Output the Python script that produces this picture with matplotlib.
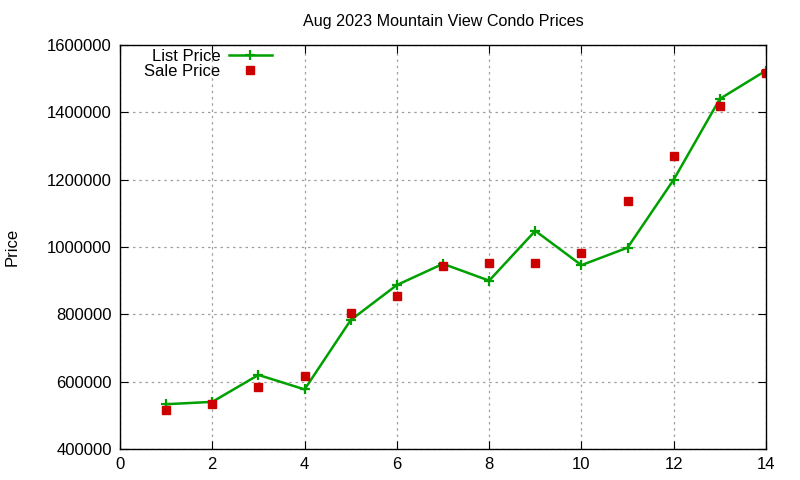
import matplotlib
matplotlib.use("Agg")
import matplotlib.pyplot as plt

x = list(range(1, 15))
list_price = [533000, 540000, 620000, 577000, 783000, 887000, 950000, 900000,
              1048000, 946000, 998000, 1200000, 1440000, 1524000]
sale_price = [517000, 535000, 585000, 618000, 804000, 855000, 945000, 951000,
              951000, 981000, 1138000, 1271000, 1419000, 1516000]
yticks = [400000, 600000, 800000, 1000000, 1200000, 1400000, 1600000]
xticks = [0, 2, 4, 6, 8, 10, 12, 14]

plt.rcParams['font.family'] = ['Liberation Sans', 'DejaVu Sans']
fig = plt.figure(figsize=(8, 4.8), dpi=100)
ax = fig.add_axes([0.15, 0.0646, 0.8075, 0.8417])

ax.plot(x, list_price, color='#00a000', lw=1.8, marker='+', ms=7, mew=1.6,
        label='List Price')
ax.plot(x, sale_price, ls='none', marker='s', ms=6, color='#cc0000',
        label='Sale Price')

ax.set_xlim(0, 14)
ax.set_ylim(400000, 1600000)
ax.set_xticks(xticks)
ax.set_yticks(yticks)
ax.set_yticklabels([str(v) for v in yticks])
ax.tick_params(direction='in', top=True, right=True, labelsize=12, length=6, pad=6)
ax.grid(True, color='#a0a0a0', ls=(0, (2, 3)), lw=0.9)
for s in ax.spines.values():
    s.set_linewidth(1.0)
ax.set_title('Aug 2023 Mountain View Condo Prices', fontsize=11.6, pad=14)
ax.set_ylabel('Price', fontsize=12)
ax.yaxis.set_label_coords(-0.155, 0.5)
ax.legend(loc='upper left', frameon=False, markerfirst=False, fontsize=12,
          bbox_to_anchor=(0.022, 1.015), handlelength=2.6, handletextpad=0.5,
          labelspacing=0.0, borderaxespad=0.2)
fig.savefig('out.png', dpi=100)
